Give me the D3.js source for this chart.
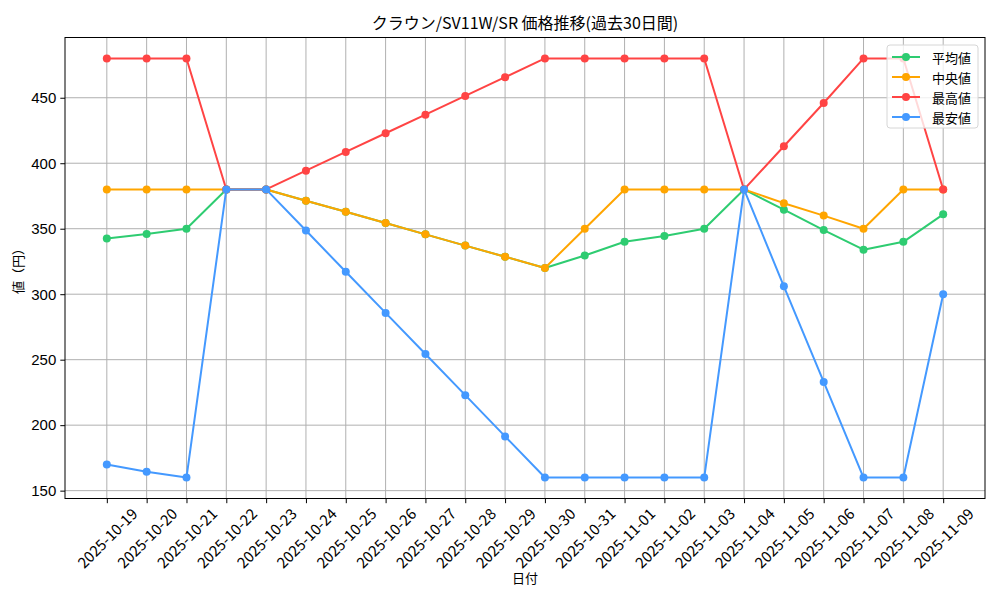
<!DOCTYPE html>
<html>
<head>
<meta charset="utf-8">
<script src="https://cdn.jsdelivr.net/npm/d3@7"></script>
<style>
  body { margin: 0; background: #fff; }
  text { font-family: "Liberation Sans Narrow", "Noto Sans CJK JP", sans-serif; fill: #000; }
  .jp { font-family: "Noto Sans CJK JP", sans-serif; }
</style>
</head>
<body>
<script>
// dates on the x axis
const dates = ["2025-10-19","2025-10-20","2025-10-21","2025-10-22","2025-10-23","2025-10-24",
  "2025-10-25","2025-10-26","2025-10-27","2025-10-28","2025-10-29","2025-10-30","2025-10-31",
  "2025-11-01","2025-11-02","2025-11-03","2025-11-04","2025-11-05","2025-11-06","2025-11-07",
  "2025-11-08","2025-11-09"];

const avgValues = [342.5, 346, 350, 380, 380, 371.4, 362.9, 354.3, 345.7, 337.1, 328.6, 320,
  329.5, 340, 344.5, 350, 380, 364.5, 349, 334, 340, 361];
const medianValues = [380, 380, 380, 380, 380, 371.4, 362.9, 354.3, 345.7, 337.1, 328.6, 320,
  350, 380, 380, 380, 380, 369.5, 360, 350, 380, 380];
const maxValues = [480, 480, 480, 380, 380, 394.3, 408.6, 422.9, 437.1, 451.4, 465.7, 480,
  480, 480, 480, 480, 380, 413, 446, 480, 480, 380];
const minValues = [170, 164.5, 160, 380, 380, 348.6, 317.1, 285.7, 254.3, 222.9, 191.4, 160,
  160, 160, 160, 160, 380, 306, 233, 160, 160, 300];

const seriesNames = ["平均値", "中央値", "最高値", "最安値"];
const yTicks = [150, 200, 250, 300, 350, 400, 450];

const w = 1000, h = 600;
const mLeft = 65, mRight = 985, mTop = 37.5, mBottom = 498.5;

const colors = ["#2ecc71", "#ffa500", "#ff4444", "#4499ff"];
const series = [avgValues, medianValues, maxValues, minValues];

const svg = d3.select("body").append("svg")
  .attr("width", w).attr("height", h);

const x = d3.scaleLinear().domain([-1.05, dates.length - 1 + 1.05]).range([mLeft, mRight]);
const y = d3.scaleLinear().domain([144, 496]).range([mBottom, mTop]);

// grid
const grid = svg.append("g").attr("stroke", "#b0b0b0").attr("stroke-width", 1);
grid.selectAll(".vg").data(dates).enter().append("line")
  .attr("x1", (d, i) => x(i)).attr("x2", (d, i) => x(i))
  .attr("y1", mTop).attr("y2", mBottom);
grid.selectAll(".hg").data(yTicks).enter().append("line")
  .attr("x1", mLeft).attr("x2", mRight)
  .attr("y1", d => y(d)).attr("y2", d => y(d));

// axes
const xAxis = svg.append("g")
  .attr("transform", `translate(0,${mBottom})`)
  .call(d3.axisBottom(x).tickValues(d3.range(dates.length)).tickSize(4.7).tickFormat(""));
xAxis.select(".domain").remove();
xAxis.selectAll("line").attr("stroke", "#000");

svg.append("g").selectAll("text").data(dates).enter().append("text")
  .attr("transform", (d, i) => `translate(${x(i)},537.5) rotate(-45)`)
  .attr("text-anchor", "middle")
  .attr("dominant-baseline", "central")
  .style("font-size", "15px")
  .text(d => d);

const yAxis = svg.append("g")
  .attr("transform", `translate(${mLeft},0)`)
  .call(d3.axisLeft(y).tickValues(yTicks).tickSize(4.7).tickPadding(4));
yAxis.select(".domain").remove();
yAxis.selectAll("line").attr("stroke", "#000");
yAxis.selectAll("text")
  .style("font-size", "15px")
  .style("font-family", "Liberation Sans Narrow, sans-serif");

// lines
const line = d3.line().x((d, i) => x(i)).y(d => y(d));
series.forEach((vals, k) => {
  svg.append("path")
    .datum(vals)
    .attr("fill", "none")
    .attr("stroke", colors[k])
    .attr("stroke-width", 2)
    .attr("stroke-linejoin", "round")
    .attr("d", line);
  svg.append("g").selectAll("circle").data(vals).enter().append("circle")
    .attr("cx", (d, i) => x(i))
    .attr("cy", d => y(d))
    .attr("r", 4)
    .attr("fill", colors[k]);
});

// frame
svg.append("rect")
  .attr("x", mLeft).attr("y", mTop)
  .attr("width", mRight - mLeft).attr("height", mBottom - mTop)
  .attr("fill", "none").attr("stroke", "#000").attr("stroke-width", 1);

// title and labels
svg.append("text")
  .attr("x", (mLeft + mRight) / 2).attr("y", 29)
  .attr("text-anchor", "middle")
  .style("font-size", "16px")
  .text("クラウン/SV11W/SR 価格推移(過去30日間)");

svg.append("text")
  .attr("class", "jp")
  .attr("x", (mLeft + mRight) / 2).attr("y", 583)
  .attr("text-anchor", "middle")
  .style("font-size", "13px")
  .text("日付");

svg.append("text")
  .attr("class", "jp")
  .attr("transform", `translate(23,${(mTop + mBottom) / 2}) rotate(-90)`)
  .attr("text-anchor", "middle")
  .style("font-size", "13px")
  .text("値（円）");

// legend
const legend = svg.append("g").attr("transform", "translate(887,45)");
legend.append("rect")
  .attr("width", 91).attr("height", 83)
  .attr("rx", 3)
  .attr("fill", "#fff").attr("fill-opacity", 0.8)
  .attr("stroke", "#d6d6d6");
const item = legend.selectAll(".item").data(seriesNames).enter().append("g")
  .attr("transform", (d, i) => `translate(0,${12 + i * 20})`);
item.append("line")
  .attr("x1", 5).attr("x2", 33)
  .attr("stroke", (d, i) => colors[i]).attr("stroke-width", 2);
item.append("circle")
  .attr("cx", 19).attr("r", 4)
  .attr("fill", (d, i) => colors[i]);
item.append("text")
  .attr("class", "jp")
  .attr("x", 45)
  .attr("dominant-baseline", "central")
  .style("font-size", "13px")
  .text(d => d);
</script>
</body>
</html>
